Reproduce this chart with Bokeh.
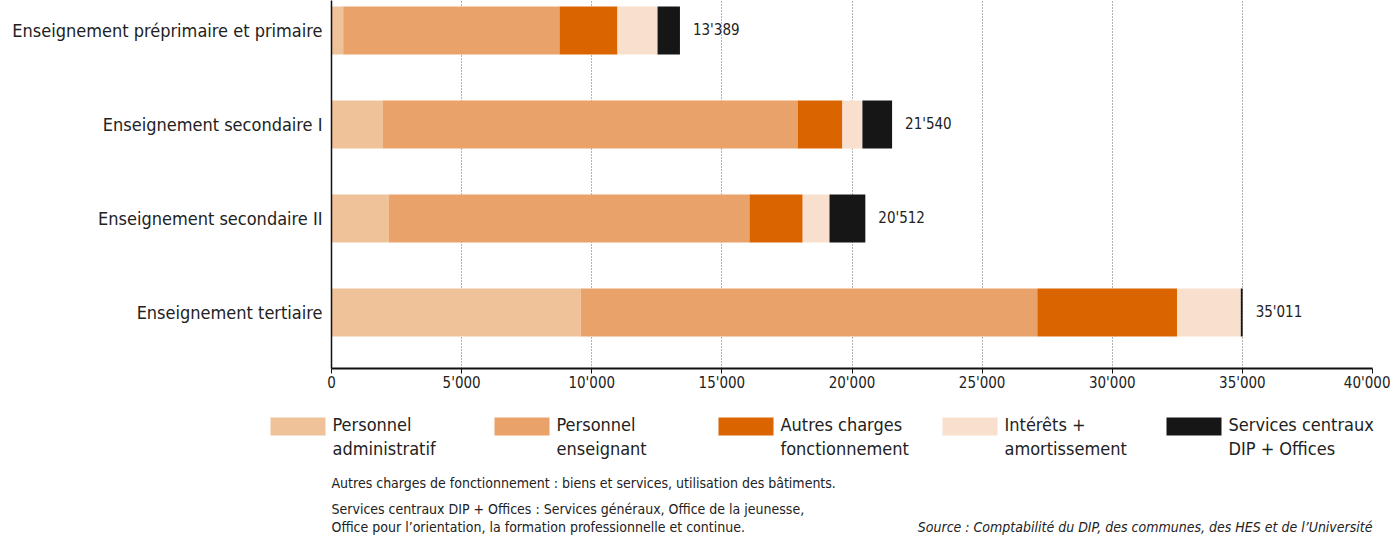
from bokeh.plotting import figure
from bokeh.models import Range1d, FixedTicker, ColumnDataSource
from bokeh.layouts import column
from bokeh.core.properties import value
from bokeh.embed import file_html
from bokeh.resources import INLINE

FONT = "DejaVu Sans Condensed"

categories = ["Enseignement préprimaire et primaire", "Enseignement secondaire I",
              "Enseignement secondaire II", "Enseignement tertiaire"]
series = ["Personnel administratif", "Personnel enseignant", "Autres charges fonctionnement",
          "Intérêts + amortissement", "Services centraux DIP + Offices"]
legend_lines = [("Personnel", "administratif"), ("Personnel", "enseignant"),
                ("Autres charges", "fonctionnement"), ("Intérêts +", "amortissement"),
                ("Services centraux", "DIP + Offices")]
colors = ["#F0C29A", "#E9A36A", "#DA6500", "#F8DFCE", "#161617"]

admin = [450, 1960, 2190, 9575]
enseignant = [8310, 15950, 13870, 17545]
autres = [2228, 1720, 2045, 5370]
interets = [1540, 770, 1030, 2450]
services = [861, 1140, 1377, 71]
totals = [13389, 21540, 20512, 35011]

xticks = [0, 5000, 10000, 15000, 20000, 25000, 30000, 35000, 40000]
xtick_labels = ["0", "5'000", "10'000", "15'000", "20'000", "25'000", "30'000", "35'000", "40'000"]

note1 = "Autres charges de fonctionnement : biens et services, utilisation des bâtiments."
note2a = "Services centraux DIP + Offices : Services généraux, Office de la jeunesse,"
note2b = "Office pour l’orientation, la formation professionnelle et continue."
source_txt = "Source : Comptabilité du DIP, des communes, des HES et de l’Université"

TXT = "#222222"
W = 1390

ypos = [3, 2, 1, 0]
keys = ["s0", "s1", "s2", "s3", "s4"]
src = ColumnDataSource(dict(y=ypos, s0=admin, s1=enseignant, s2=autres, s3=interets, s4=services,
                            total=totals,
                            total_label=[f"{t:,}".replace(",", "'") for t in totals]))

p = figure(width=W, height=408, x_range=Range1d(0, 40000), y_range=Range1d(-0.596, 3.319),
           output_backend="svg", toolbar_location=None,
           min_border_left=331, min_border_right=18, min_border_top=0, min_border_bottom=40)
p.outline_line_color = None
p.background_fill_color = "white"

p.hbar_stack(keys, y="y", height=0.511, color=colors, line_width=0, source=src)
p.text(x="total", y="y", text="total_label", source=src, x_offset=13,
       text_baseline="middle", text_align="left", text_font=value(FONT),
       text_font_size="15px", text_color=TXT)

p.ygrid.visible = False
p.xgrid.ticker = FixedTicker(ticks=xticks)
p.xgrid.grid_line_color = "#666666"
p.xgrid.grid_line_dash = "1 2"
p.xgrid.grid_line_width = 1

xa = p.xaxis[0]
xa.ticker = FixedTicker(ticks=xticks)
xa.major_label_overrides = {t: l for t, l in zip(xticks, xtick_labels)}
xa.axis_line_width = 2
xa.axis_line_color = "#111111"
xa.major_tick_line_color = "#111111"
xa.major_tick_out = 5
xa.major_tick_in = 0
xa.minor_tick_line_color = None
xa.major_label_text_font = FONT
xa.major_label_text_font_size = "15px"
xa.major_label_text_color = TXT
xa.major_label_standoff = 0

ya = p.yaxis[0]
ya.ticker = FixedTicker(ticks=ypos)
ya.major_label_overrides = {y: c for y, c in zip(ypos, categories)}
ya.axis_line_width = 1.5
ya.axis_line_color = "#111111"
ya.major_tick_line_color = None
ya.minor_tick_line_color = None
ya.major_label_text_font = FONT
ya.major_label_text_font_size = "18px"
ya.major_label_text_color = TXT
ya.major_label_standoff = 3

# legend + notes
H2 = 131
p2 = figure(width=W, height=H2, x_range=Range1d(0, W), y_range=Range1d(H2, 0),
            output_backend="svg", toolbar_location=None,
            min_border=0, min_border_left=0, min_border_right=0, min_border_top=0, min_border_bottom=0)
p2.axis.visible = False
p2.grid.visible = False
p2.outline_line_color = None
for fig in (p, p2):
    try:
        fig.frame_align = False
    except Exception:
        pass

lx = [270 + 224 * i for i in range(5)]
p2.quad(left=lx, right=[x + 55 for x in lx], top=[9] * 5, bottom=[27] * 5, color=colors, line_width=0)
p2.text(x=[x + 62 for x in lx], y=[16] * 5, text=[a for a, b in legend_lines],
        text_baseline="middle", text_font=value(FONT), text_font_size="18px", text_color=TXT)
p2.text(x=[x + 62 for x in lx], y=[40] * 5, text=[b for a, b in legend_lines],
        text_baseline="middle", text_font=value(FONT), text_font_size="18px", text_color=TXT)
p2.text(x=[331, 331, 331], y=[74, 100, 118], text=[note1, note2a, note2b],
        text_baseline="middle", text_font=value(FONT), text_font_size="14px", text_color=TXT)
p2.text(x=[1372], y=[118], text=[source_txt], text_align="right",
        text_baseline="middle", text_font=value(FONT), text_font_size="14px",
        text_font_style="italic", text_color=TXT)

layout = column(p, p2, spacing=0)
open("out.html", "w").write(file_html(layout, INLINE))
